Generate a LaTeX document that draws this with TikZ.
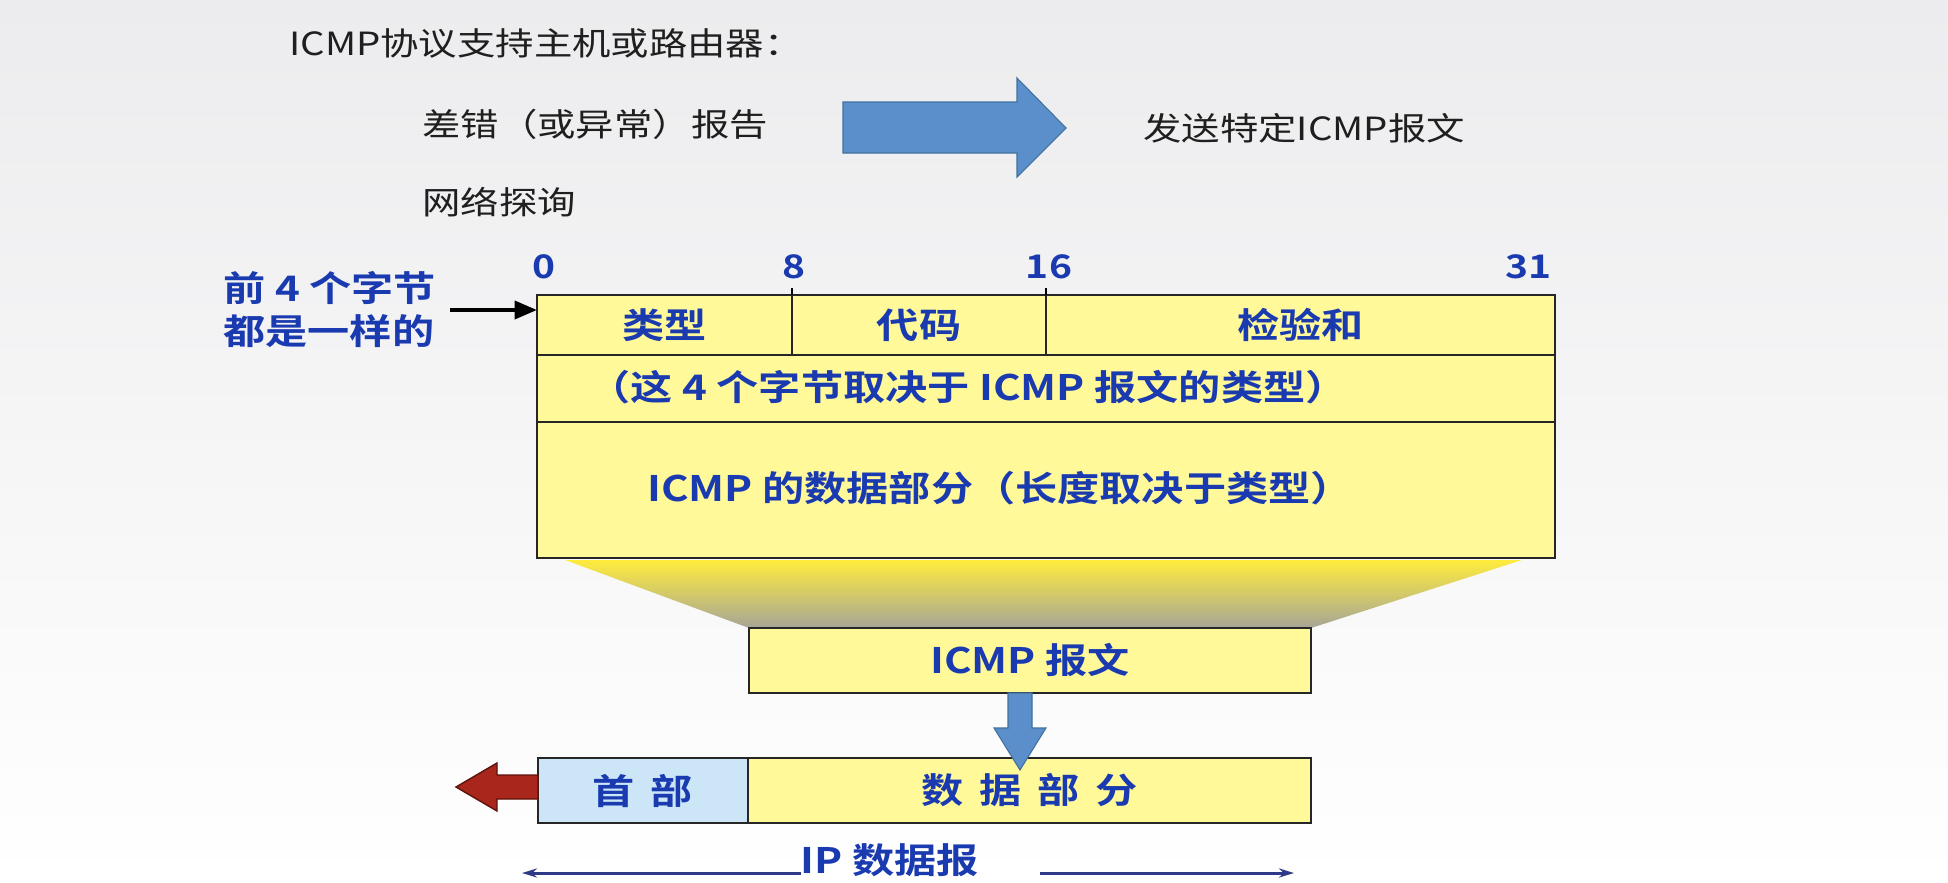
\documentclass[tikz,border=0pt]{standalone}
\usepackage{fontspec}
\setmainfont{Noto Sans CJK SC}[BoldFont={Noto Sans CJK SC Bold},FakeStretch=1.2]
\usetikzlibrary{arrows.meta,positioning,calc}
\definecolor{pktyellow}{HTML}{FFF99A}
\definecolor{hdrblue}{HTML}{CCE6F8}
\definecolor{labelblue}{HTML}{1A3AB0}
\definecolor{arrowblue}{HTML}{5A8FCB}
\definecolor{arrowblueedge}{HTML}{41719C}
\definecolor{arrowred}{HTML}{A8261B}
\definecolor{arrowrededge}{HTML}{5E130C}
\definecolor{spannavy}{HTML}{2E3A87}
\definecolor{slidegray}{HTML}{ECECEE}
\definecolor{funnelyellow}{HTML}{FFEC3D}
\definecolor{funnelgray}{HTML}{A6A597}
\newcommand{\chgap}{\hspace{.45em}}
\tikzset{
  field/.style={rectangle, draw=black!85, line width=1.1pt, fill=pktyellow, anchor=north west, inner sep=0pt, outer sep=0pt, font=\fontsize{20}{24}\selectfont\bfseries, text=labelblue},
  fieldtext/.style={font=\fontsize{20}{24.5}\selectfont\bfseries, text=labelblue, inner sep=0pt},
  bitnum/.style={font=\fontsize{18.5}{20}\selectfont\bfseries, text=labelblue, inner sep=0pt},
  plain/.style={font=\fontsize{18.2}{22}\selectfont, text=black!88, anchor=west, inner sep=0pt},
  ptr/.style={-{Triangle[length=4.5mm,width=3.6mm]}, line width=2.3pt},
  span/.style={-{Stealth[length=3mm,width=1.8mm]}, line width=1.7pt, draw=spannavy},
  blockblue/.style={fill=arrowblue, draw=arrowblueedge, line width=0.6pt},
  blockred/.style={fill=arrowred, draw=arrowrededge, line width=0.8pt},
}
\begin{document}
\begin{tikzpicture}[x=0.2mm,y=-0.2mm]
  \useasboundingbox (0,0) rectangle (1948,883);
  \shade[top color=slidegray, bottom color=white] (0,0) rectangle (1948,883);
  % what ICMP is used for
  \node[plain] (intro) at (289,43) {ICMP协议支持主机或路由器：};
  \node[plain] (err) at (422,124) {差错（或异常）报告};
  \node[plain] (probe) at (422,202) {网络探询};
  \node[plain] (send) at (1143,128) {发送特定ICMP报文};
  \draw[blockblue] (843,102) -- (1017,102) -- (1017,78) -- (1066,128) -- (1017,177) -- (1017,153) -- (843,153) -- cycle;
  % ICMP message format
  \node[bitnum] (b0) at (544,267) {0};
  \node[bitnum] (b8) at (794,267) {8};
  \node[bitnum] (b16) at (1049,267) {16};
  \node[bitnum, anchor=east] (b31) at (1552,267) {31};
  \node[field, minimum width=5.1cm, minimum height=1.2cm] (type) at (537,295) {类型};
  \node[field, minimum width=5.08cm, minimum height=1.2cm] (code) at (type.north east) {代码};
  \node[field, minimum width=10.18cm, minimum height=1.2cm] (csum) at (code.north east) {检验和};
  \node[field, minimum width=20.36cm, minimum height=1.34cm] (rest) at (type.south west) {};
  \node[field, minimum width=20.36cm, minimum height=2.72cm] (body) at (rest.south west) {};
  \node[fieldtext] (restlbl) at (968,387) {（这 4 个字节取决于 ICMP 报文的类型）};
  \node[fieldtext] (bodylbl) at (1000,488) {ICMP 的数据部分（长度取决于类型）};
  \draw[line width=1pt] (type.north east) -- ++(0,-7);
  \draw[line width=1pt] (code.north east) -- ++(0,-7);
  \node[fieldtext, align=left, anchor=west] (same) at (223,310) {前 4 个字节\\都是一样的};
  \draw[ptr] ([xshift=2.8mm]same.east) -- (same.east -| type.west);
  % encapsulation into IP
  \shade[top color=funnelyellow, bottom color=funnelgray] (565,560) -- (1522,560) -- (1311,628) -- (749,628) -- cycle;
  \node[field, minimum width=11.24cm, minimum height=1.3cm] (msg) at (749,628) {ICMP 报文};
  \node[field, fill=hdrblue, minimum width=4.2cm, minimum height=1.3cm] (hdr) at (538,758) {首\chgap 部};
  \node[field, minimum width=11.26cm, minimum height=1.3cm] (payload) at (hdr.north east) {数\chgap 据\chgap 部\chgap 分};
  \draw[blockblue] (1008,693) -- (1032,693) -- (1032,728) -- (1046,728) -- (1020,770) -- (994,728) -- (1008,728) -- cycle;
  \draw[blockred] (538,775) -- (497,775) -- (497,763) -- (456,787) -- (497,811) -- (497,799) -- (538,799) -- cycle;
  \node[fieldtext] (ipdg) at (890,860) {IP 数据报};
  \coordinate (spanL) at (522,873);
  \coordinate (spanM) at (1040,873);
  \coordinate (spanR) at (1294,873);
  \draw[span] (ipdg.west |- spanL) -- (spanL);
  \draw[span] (spanM) -- (spanR);
\end{tikzpicture}
\end{document}
